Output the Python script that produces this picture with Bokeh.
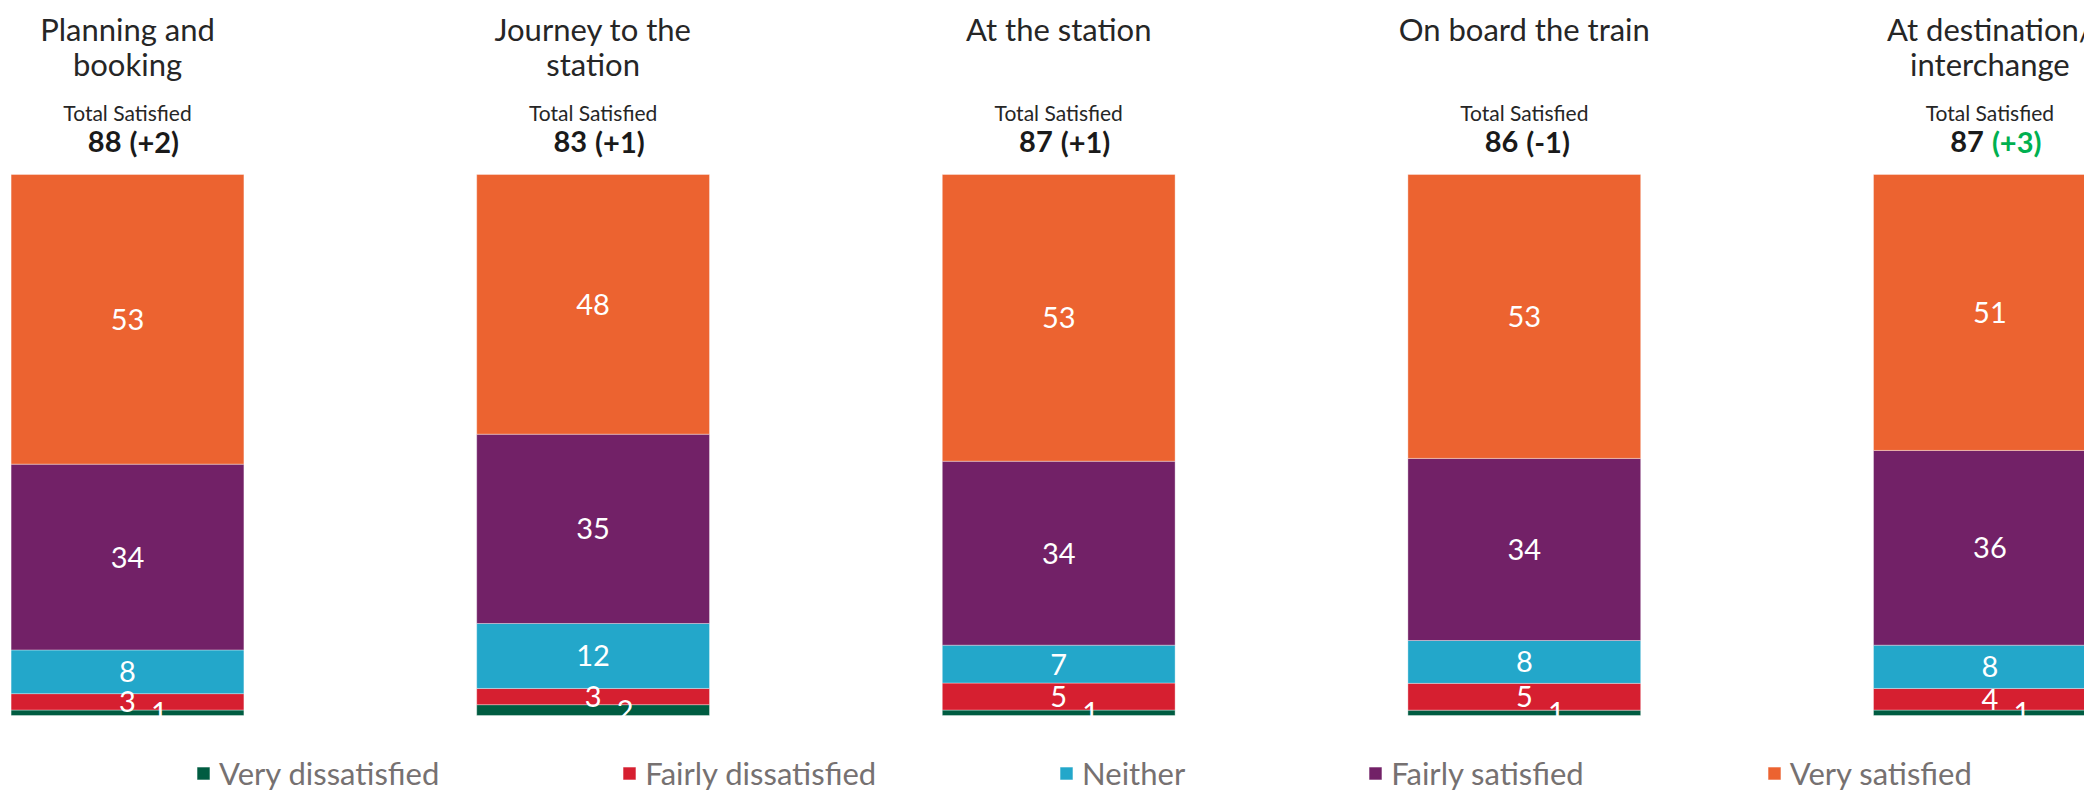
from bokeh.plotting import figure
from bokeh.models import ColumnDataSource, Range1d, Legend, LegendItem
from bokeh.core.properties import value
from bokeh.embed import file_html
from bokeh.resources import INLINE

# ---------------- data ----------------
stages = ["Planning and\nbooking", "Journey to the\nstation", "At the station",
          "On board the train", "At destination/\ninterchange"]
series = ["Very dissatisfied", "Fairly dissatisfied", "Neither", "Fairly satisfied", "Very satisfied"]
very_dissatisfied = [1, 2, 1, 1, 1]
fairly_dissatisfied = [3, 3, 5, 5, 4]
neither = [8, 12, 7, 8, 8]
fairly_satisfied = [34, 35, 34, 34, 36]
very_satisfied = [53, 48, 53, 53, 51]
total_satisfied = [88, 83, 87, 86, 87]
change = ["+2", "+1", "+1", "-1", "+3"]
significant = [False, False, False, False, True]

colors = ["#005C41", "#D61F30", "#23A7CA", "#722167", "#EC6330"]
FONT = "Lato"

W, H = 2084, 792
PX_PER_CAT = 465.6
X0_PX = 127.0          # centre of first bar in pixels
PX_PER_UNIT = 5.41
Y0_PX = 715.0          # baseline of bars in pixels

x_lo = -X0_PX / PX_PER_CAT
x_hi = (W - X0_PX) / PX_PER_CAT
y_hi = Y0_PX / PX_PER_UNIT
y_lo = -(H - Y0_PX) / PX_PER_UNIT


def ypx(px):
    return y_hi - px / PX_PER_UNIT


def xpx(dpx):
    return dpx / PX_PER_CAT


p = figure(width=W, height=H, output_backend="svg", toolbar_location=None,
           x_range=Range1d(x_lo, x_hi), y_range=Range1d(y_lo, y_hi),
           min_border=0, min_border_left=0, min_border_right=0,
           min_border_top=0, min_border_bottom=0)
p.axis.visible = False
p.grid.visible = False
p.outline_line_color = None
p.background_fill_color = "white"
p.border_fill_color = "white"

idx = list(range(len(stages)))
raw = [very_dissatisfied, fairly_dissatisfied, neither, fairly_satisfied, very_satisfied]
totals = [sum(col) for col in zip(*raw)]
pct = [[v * 100.0 / t for v, t in zip(s, totals)] for s in raw]

data = {"x": idx}
for name, vals in zip(series, pct):
    data[name] = vals
src = ColumnDataSource(data)

renderers = p.vbar_stack(series, x="x", width=0.5, source=src, color=colors,
                         line_color="white", line_alpha=0.35, line_width=1)

# segment labels
lab_x, lab_y, lab_t = [], [], []
for i in idx:
    bottom = 0.0
    for k, s in enumerate(series):
        h = pct[k][i]
        cx = i + (xpx(32) if k == 0 else 0.0)
        lab_x.append(cx)
        lab_y.append(bottom + h / 2)
        lab_t.append(str(raw[k][i]))
        bottom += h
p.text(x=lab_x, y=lab_y, text=lab_t, text_color="white", text_font=value(FONT),
       text_font_size="29px", text_align="center", text_baseline="middle")

# stage titles
p.text(x=idx, y=[ypx(9)] * len(idx), text=stages, text_color="#262626",
       text_font=value(FONT), text_font_size="31px", text_align="center",
       text_baseline="top", text_line_height=0.93)

# Total satisfied
p.text(x=idx, y=[ypx(112)] * len(idx), text=["Total Satisfied"] * len(idx),
       text_color="#262626", text_font=value(FONT), text_font_size="21px",
       text_align="center", text_baseline="middle")

num_x = [i - xpx(6) for i in idx]
chg_x = [i + xpx(2) for i in idx]
p.text(x=num_x, y=[ypx(141)] * len(idx), text=[str(v) for v in total_satisfied],
       text_color="#1a1a1a", text_font=value(FONT), text_font_size="29px",
       text_font_style="bold", text_align="right", text_baseline="middle")
p.text(x=chg_x, y=[ypx(141)] * len(idx), text=["(" + c + ")" for c in change],
       text_color=["#00B050" if s else "#1a1a1a" for s in significant],
       text_font=value(FONT), text_font_size="29px",
       text_font_style="bold", text_align="left", text_baseline="middle")

legend = Legend(items=[LegendItem(label=s, renderers=[r]) for s, r in zip(series, renderers)],
                orientation="horizontal", location=(195, 0),
                glyph_width=16, glyph_height=16, label_standoff=8, spacing=182,
                padding=0, margin=0, border_line_color=None,
                background_fill_alpha=0, label_text_font=FONT,
                label_text_font_size="31px", label_text_color="#767171")
p.add_layout(legend)

open("out.html", "w").write(file_html(p, INLINE))
